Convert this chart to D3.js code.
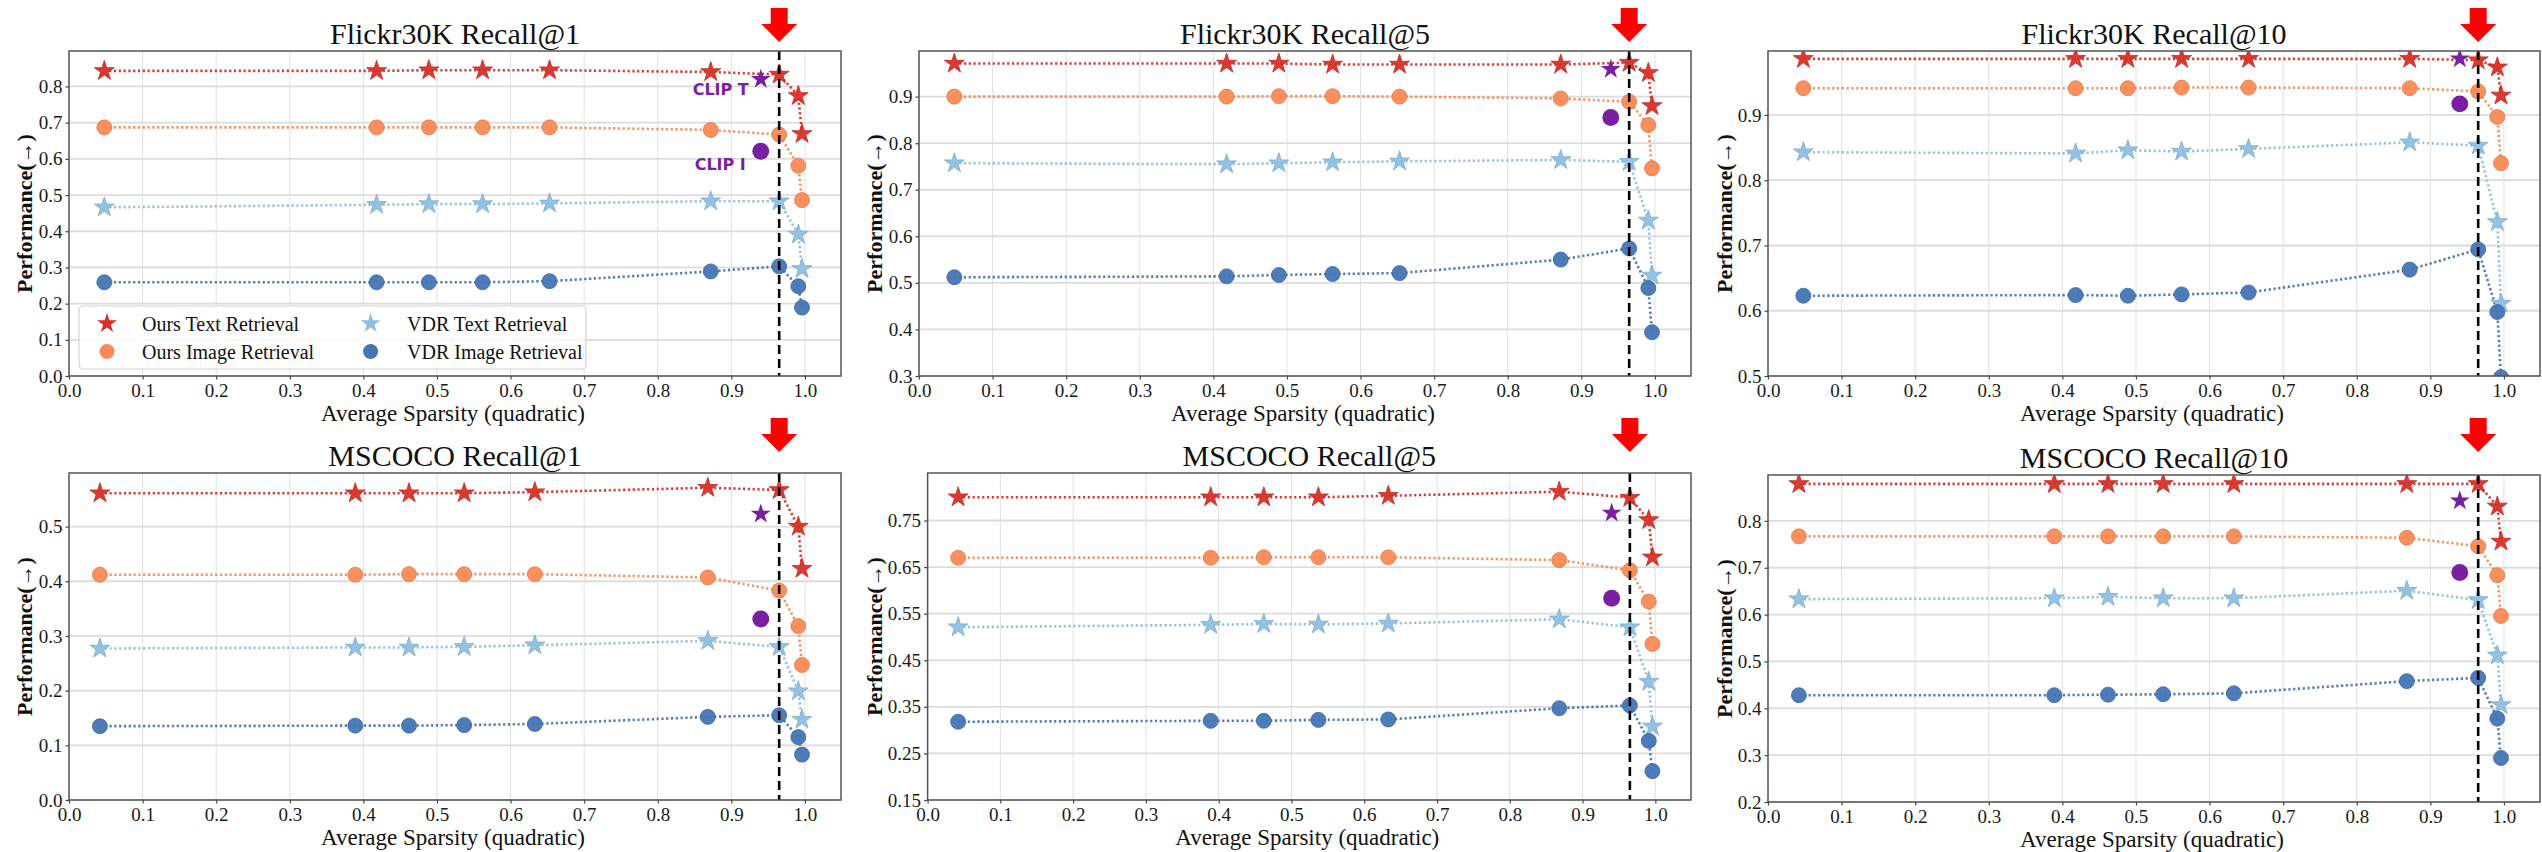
<!DOCTYPE html>
<html><head><meta charset="utf-8">
<script src="https://cdn.jsdelivr.net/npm/d3@7"></script>
<style>html,body{margin:0;padding:0;background:#fff;} svg{display:block;}</style>
</head><body><svg id="chart" width="2542" height="852"></svg>
<script>
// ---------- DATA ----------
const sparsityFlickr = [0.048, 0.418, 0.489, 0.562, 0.653, 0.872, 0.965, 0.991, 0.996];
const sparsityCoco   = [0.042, 0.389, 0.462, 0.537, 0.633, 0.868, 0.965, 0.991, 0.996];
const seriesNames = ["Ours Text Retrieval", "Ours Image Retrieval", "VDR Text Retrieval", "VDR Image Retrieval"];
const panelTitles = ["Flickr30K Recall@1", "Flickr30K Recall@5", "Flickr30K Recall@10",
                     "MSCOCO Recall@1", "MSCOCO Recall@5", "MSCOCO Recall@10"];

const flickrR1OursText  = [0.843, 0.843, 0.845, 0.845, 0.845, 0.840, 0.833, 0.774, 0.669];
const flickrR1OursImage = [0.687, 0.687, 0.687, 0.687, 0.687, 0.680, 0.667, 0.581, 0.486];
const flickrR1VdrText   = [0.466, 0.473, 0.475, 0.475, 0.477, 0.483, 0.483, 0.391, 0.296];
const flickrR1VdrImage  = [0.259, 0.259, 0.259, 0.259, 0.262, 0.289, 0.303, 0.248, 0.189];

const flickrR5OursText  = [0.971, 0.971, 0.971, 0.969, 0.969, 0.969, 0.973, 0.951, 0.880];
const flickrR5OursImage = [0.900, 0.900, 0.901, 0.901, 0.900, 0.896, 0.889, 0.839, 0.746];
const flickrR5VdrText   = [0.757, 0.755, 0.757, 0.759, 0.761, 0.764, 0.760, 0.634, 0.516];
const flickrR5VdrImage  = [0.512, 0.514, 0.517, 0.519, 0.521, 0.550, 0.574, 0.489, 0.394];

const flickrR10OursText  = [0.986, 0.986, 0.986, 0.986, 0.986, 0.986, 0.984, 0.973, 0.930];
const flickrR10OursImage = [0.941, 0.941, 0.941, 0.942, 0.942, 0.941, 0.936, 0.897, 0.826];
const flickrR10VdrText   = [0.843, 0.841, 0.846, 0.844, 0.848, 0.858, 0.853, 0.736, 0.611];
const flickrR10VdrImage  = [0.623, 0.624, 0.623, 0.625, 0.628, 0.663, 0.694, 0.598, 0.498];

const cocoR1OursText  = [0.561, 0.561, 0.561, 0.561, 0.563, 0.571, 0.567, 0.500, 0.423];
const cocoR1OursImage = [0.412, 0.412, 0.413, 0.413, 0.413, 0.407, 0.383, 0.318, 0.247];
const cocoR1VdrText   = [0.277, 0.279, 0.279, 0.280, 0.283, 0.291, 0.280, 0.199, 0.147];
const cocoR1VdrImage  = [0.135, 0.136, 0.136, 0.137, 0.139, 0.152, 0.155, 0.115, 0.083];

const cocoR5OursText  = [0.800, 0.800, 0.800, 0.800, 0.803, 0.812, 0.799, 0.751, 0.671];
const cocoR5OursImage = [0.670, 0.670, 0.671, 0.671, 0.671, 0.665, 0.643, 0.576, 0.485];
const cocoR5VdrText   = [0.521, 0.526, 0.528, 0.527, 0.529, 0.538, 0.521, 0.404, 0.308];
const cocoR5VdrImage  = [0.318, 0.320, 0.320, 0.322, 0.323, 0.347, 0.353, 0.277, 0.212];

const cocoR10OursText  = [0.879, 0.879, 0.879, 0.879, 0.879, 0.879, 0.879, 0.831, 0.756];
const cocoR10OursImage = [0.767, 0.767, 0.767, 0.767, 0.767, 0.764, 0.746, 0.684, 0.597];
const cocoR10VdrText   = [0.633, 0.635, 0.638, 0.635, 0.635, 0.651, 0.631, 0.513, 0.407];
const cocoR10VdrImage  = [0.428, 0.428, 0.429, 0.430, 0.432, 0.458, 0.465, 0.378, 0.294];

const clipSparsity = 0.940;
const clipText  = [0.820, 0.959, 0.986, 0.523, 0.766, 0.843];
const clipImage = [0.621, 0.855, 0.917, 0.331, 0.583, 0.690];
const chosenSparsity = 0.965;

const xTickValues = [0.0, 0.1, 0.2, 0.3, 0.4, 0.5, 0.6, 0.7, 0.8, 0.9, 1.0];
const yTickSets = [
  [0.0, 0.1, 0.2, 0.3, 0.4, 0.5, 0.6, 0.7, 0.8],
  [0.3, 0.4, 0.5, 0.6, 0.7, 0.8, 0.9],
  [0.5, 0.6, 0.7, 0.8, 0.9],
  [0.0, 0.1, 0.2, 0.3, 0.4, 0.5],
  [0.15, 0.25, 0.35, 0.45, 0.55, 0.65, 0.75],
  [0.2, 0.3, 0.4, 0.5, 0.6, 0.7, 0.8]
];
const yDomains = [[0, 0.898], [0.3, 0.998], [0.5, 0.998], [0, 0.598], [0.15, 0.852], [0.2, 0.898]];
const yFormats = [".1f", ".1f", ".1f", ".1f", ".2f", ".1f"];

const panelSeries = [
  [flickrR1OursText, flickrR1OursImage, flickrR1VdrText, flickrR1VdrImage],
  [flickrR5OursText, flickrR5OursImage, flickrR5VdrText, flickrR5VdrImage],
  [flickrR10OursText, flickrR10OursImage, flickrR10VdrText, flickrR10VdrImage],
  [cocoR1OursText, cocoR1OursImage, cocoR1VdrText, cocoR1VdrImage],
  [cocoR5OursText, cocoR5OursImage, cocoR5VdrText, cocoR5VdrImage],
  [cocoR10OursText, cocoR10OursImage, cocoR10VdrText, cocoR10VdrImage]
];
const panelX = [sparsityFlickr, sparsityFlickr, sparsityFlickr, sparsityCoco, sparsityCoco, sparsityCoco];

// ---------- STYLE / LAYOUT ----------
const colors = ["#d73027", "#f98a55", "#8dbfe2", "#4575b4"];
const shapes = ["star", "circle", "star", "circle"];
const clipColor = "#7b1fa2";
const serif = "'Liberation Serif', 'Times New Roman', Times, serif";
const layout = [
  {l: 69,    r: 841,  t: 51,  b: 376, ylx: 24,   arrow: [8, 24, 42]},
  {l: 919,   r: 1691, t: 51,  b: 376, ylx: 874,  arrow: [8, 24, 42]},
  {l: 1768,  r: 2540, t: 51,  b: 376, ylx: 1724, arrow: [8, 24, 42]},
  {l: 69,    r: 841,  t: 473, b: 800, ylx: 24,   arrow: [418, 434, 452]},
  {l: 927.6, r: 1691, t: 473, b: 800, ylx: 874,  arrow: [418, 434, 452]},
  {l: 1768,  r: 2540, t: 475, b: 802, ylx: 1724, arrow: [418, 434, 452]}
];
const xMax = 1.049;
const starSize = 124, circleSize = 177;

const svg = d3.select("#chart");
const defs = svg.append("defs");

function markerPath(shape, size) {
  return d3.symbol().type(shape === "star" ? d3.symbolStar : d3.symbolCircle).size(size)();
}

layout.forEach((L, i) => {
  const x = d3.scaleLinear().domain([0, xMax]).range([L.l, L.r]);
  const y = d3.scaleLinear().domain(yDomains[i]).range([L.b, L.t]);
  const g = svg.append("g");

  defs.append("clipPath").attr("id", "clip" + i)
    .append("rect").attr("x", L.l).attr("y", L.t).attr("width", L.r - L.l).attr("height", L.b - L.t);

  // grid
  g.append("g").selectAll("line").data(xTickValues).join("line")
    .attr("x1", d => x(d)).attr("x2", d => x(d)).attr("y1", L.t).attr("y2", L.b)
    .attr("stroke", "#e1e1e1").attr("stroke-width", 1);
  g.append("g").selectAll("line").data(yTickSets[i]).join("line")
    .attr("x1", L.l).attr("x2", L.r).attr("y1", d => y(d)).attr("y2", d => y(d))
    .attr("stroke", "#dcdcdc").attr("stroke-width", 1.8);

  // axes
  const xa = g.append("g").attr("transform", `translate(0,${L.b})`)
    .call(d3.axisBottom(x).tickValues(xTickValues).tickFormat(d3.format(".1f")).tickSize(3.5).tickPadding(4.5));
  const ya = g.append("g").attr("transform", `translate(${L.l},0)`)
    .call(d3.axisLeft(y).tickValues(yTickSets[i]).tickFormat(d3.format(yFormats[i])).tickSize(3.5).tickPadding(3));
  [xa, ya].forEach(a => {
    a.select(".domain").remove();
    a.selectAll("line").attr("stroke", "#444").attr("stroke-width", 1.2);
    a.selectAll("text").attr("font-family", serif).attr("font-size", 19).attr("fill", "#1a1a1a");
  });

  // series
  const plot = g.append("g").attr("clip-path", `url(#clip${i})`);
  const xs = panelX[i];
  panelSeries[i].forEach((vals, s) => {
    const pts = vals.map((v, k) => [xs[k], v]);
    plot.append("path").datum(pts)
      .attr("d", d3.line().x(d => x(d[0])).y(d => y(d[1])))
      .attr("fill", "none").attr("stroke", colors[s]).attr("stroke-width", 2.6)
      .attr("stroke-dasharray", "2.2,2.6").attr("opacity", 0.95);
  });
  panelSeries[i].forEach((vals, s) => {
    const pts = vals.map((v, k) => [xs[k], v]);
    plot.append("g").selectAll("path").data(pts).join("path")
      .attr("transform", d => `translate(${x(d[0])},${y(d[1])})`)
      .attr("d", markerPath(shapes[s], shapes[s] === "star" ? starSize : circleSize))
      .attr("fill", colors[s]).attr("fill-opacity", 0.95)
      .attr("stroke", d3.color(colors[s]).darker(0.3)).attr("stroke-width", 0.8);
  });
  // CLIP markers
  plot.append("path")
    .attr("transform", `translate(${x(clipSparsity)},${y(clipText[i])})`)
    .attr("d", markerPath("star", starSize)).attr("fill", clipColor);
  plot.append("path")
    .attr("transform", `translate(${x(clipSparsity)},${y(clipImage[i])})`)
    .attr("d", markerPath("circle", 225)).attr("fill", clipColor);

  // chosen sparsity dashed line
  g.append("line").attr("x1", x(chosenSparsity)).attr("x2", x(chosenSparsity))
    .attr("y1", L.t).attr("y2", L.b).attr("stroke", "#000").attr("stroke-width", 2.6)
    .attr("stroke-dasharray", "9,5");

  // spines
  g.append("rect").attr("x", L.l).attr("y", L.t).attr("width", L.r - L.l).attr("height", L.b - L.t)
    .attr("fill", "none").attr("stroke", "#555").attr("stroke-width", 1.5);

  // red arrow
  const ax = x(chosenSparsity), [a0, a1, a2] = L.arrow;
  g.append("path")
    .attr("d", `M${ax - 8.5},${a0}H${ax + 8.5}V${a1}H${ax + 18}L${ax},${a2}L${ax - 18},${a1}H${ax - 8.5}Z`)
    .attr("fill", "#ff0000");

  // title & labels
  g.append("text").attr("x", (L.l + L.r) / 2).attr("y", L.t - 7).attr("text-anchor", "middle")
    .attr("font-family", serif).attr("font-size", 30).attr("fill", "#111").text(panelTitles[i]);
  g.append("text").attr("x", (L.l + L.r) / 2 - 2).attr("y", L.b + 45).attr("text-anchor", "middle")
    .attr("font-family", serif).attr("font-size", 23).attr("fill", "#111").text("Average Sparsity (quadratic)");
  g.append("text").attr("transform", `translate(${L.ylx},${(L.t + L.b) / 2}) rotate(-90)`)
    .attr("text-anchor", "middle").attr("dominant-baseline", "central")
    .attr("font-family", serif).attr("font-size", 22).attr("font-weight", "bold").attr("fill", "#111")
    .text("Performance(\u2192)");

  if (i === 0) {
    // CLIP annotations
    g.append("text").attr("x", x(clipSparsity) - 12).attr("y", y(clipText[i]) + 16).attr("text-anchor", "end")
      .attr("font-family", "'DejaVu Sans', sans-serif").attr("font-weight", "bold").attr("font-size", 16)
      .attr("fill", clipColor).text("CLIP T");
    g.append("text").attr("x", x(clipSparsity) - 15).attr("y", y(clipImage[i]) + 19).attr("text-anchor", "end")
      .attr("font-family", "'DejaVu Sans', sans-serif").attr("font-weight", "bold").attr("font-size", 16)
      .attr("fill", clipColor).text("CLIP I");

    // legend
    const lg = g.append("g");
    lg.append("rect").attr("x", 79).attr("y", 306).attr("width", 507).attr("height", 63).attr("rx", 4)
      .attr("fill", "#fff").attr("fill-opacity", 0.8).attr("stroke", "#d4d4d4").attr("stroke-width", 1.2);
    const pos = [[107, 323.5, 142], [107, 351.5, 142], [370.6, 323.5, 407], [370.6, 351.5, 407]];
    seriesNames.forEach((name, s) => {
      const [mx, my, tx] = pos[s];
      lg.append("path").attr("transform", `translate(${mx},${my})`)
        .attr("d", markerPath(shapes[s], shapes[s] === "star" ? starSize : circleSize)).attr("fill", colors[s]);
      lg.append("text").attr("x", tx).attr("y", my).attr("dominant-baseline", "central")
        .attr("font-family", serif).attr("font-size", 20).attr("fill", "#111").text(name);
    });
  }
});
</script></body></html>
